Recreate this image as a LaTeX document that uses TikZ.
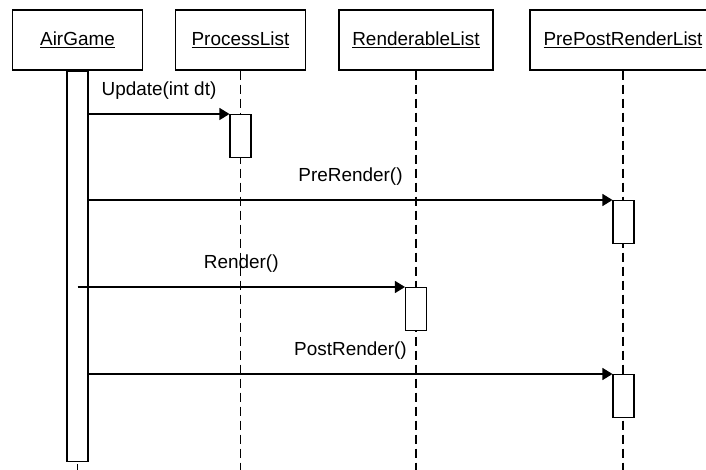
\documentclass[tikz,border=0pt]{standalone}
\usepackage{fontspec}
\setmainfont{Liberation Sans}
\usetikzlibrary{arrows.meta, positioning}

\tikzset{
  objbox/.style={draw, fill=white, line width=0.8pt, minimum width=97.5pt, minimum height=45pt, inner sep=0pt, font=\fontsize{14.2}{17}\selectfont},
  actbar/.style={draw, fill=white, line width=0.8pt, minimum width=15.75pt, minimum height=32.25pt, inner sep=0pt, anchor=north},
  lifeline/.style={line width=0.8pt, dash pattern=on 6.75pt off 3.75pt},
  msg/.style={line width=0.8pt, -{Triangle[length=7.5pt, width=9pt]}},
  msglabel/.style={midway, above=7.5pt, font=\fontsize{14.2}{17}\selectfont}
}

\begin{document}
\begin{tikzpicture}[x=0.75pt, y=-0.75pt]
  \clip (0,0) rectangle (706,470);
  \coordinate (bottom) at (0,470);

  % Objects
  \node[objbox] (airgame) at (77.5,40) {\underline{AirGame}};
  \node[objbox] (proclist) at (240.5,40) {\underline{ProcessList}};
  \node[objbox, minimum width=115.5pt] (rendlist) at (416,40) {\underline{RenderableList}};
  \node[objbox, minimum width=139.5pt] (pprlist) at (623,40) {\underline{PrePostRenderList}};

  % Lifelines
  \draw[lifeline] (proclist.south) -- (proclist.south |- bottom);
  \draw[lifeline] (rendlist.south) -- (rendlist.south |- bottom);
  \draw[lifeline] (pprlist.south) -- (pprlist.south |- bottom);

  % AirGame activation
  \node[actbar, minimum height=292.5pt] (actAir) at (airgame.south) {};
  \draw[lifeline, dash phase=-2pt] (actAir.south) -- (actAir.south |- bottom);

  % Update(int dt)
  \node[actbar] (actUpd) at (240.5,114) {};
  \draw[msg] (actAir.east |- actUpd.north) -- (actUpd.north west) node[msglabel] {Update(int dt)};

  % PreRender()
  \node[actbar] (actPre) at (623.5,200) {};
  \draw[msg] (actAir.east |- actPre.north) -- (actPre.north west) node[msglabel] {PreRender()};

  % Render()
  \node[actbar] (actRen) at (416,287) {};
  \draw[msg] (actAir.center |- actRen.north) -- (actRen.north west) node[msglabel] {Render()};

  % PostRender()
  \node[actbar] (actPost) at (623.5,374) {};
  \draw[msg] (actAir.east |- actPost.north) -- (actPost.north west) node[msglabel] {PostRender()};
\end{tikzpicture}
\end{document}
